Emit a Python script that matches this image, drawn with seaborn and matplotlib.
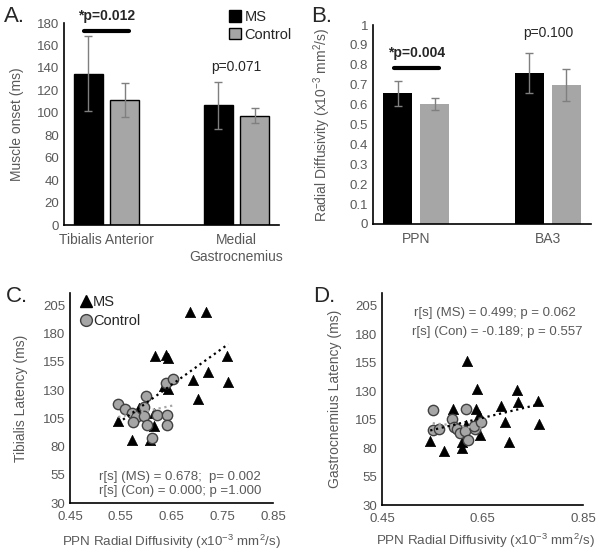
import numpy as np
import pandas as pd
import matplotlib
matplotlib.use("Agg")
import matplotlib.pyplot as plt
import seaborn as sns
from matplotlib.lines import Line2D
from matplotlib.patches import Patch

# groups
groups = ["MS", "Control"]

# A. muscle onset (ms)
onset_muscles = ["Tibialis Anterior", "Medial\nGastrocnemius"]
onset_ms = [135, 106.5]
onset_ms_err = [33.5, 21]
onset_con = [111.5, 97.5]
onset_con_err = [15, 6.5]

# B. radial diffusivity (x10-3 mm2/s)
rd_regions = ["PPN", "BA3"]
rd_ms = [0.657, 0.757]
rd_ms_err = [0.063, 0.10]
rd_con = [0.603, 0.698]
rd_con_err = [0.030, 0.082]

# C. tibialis latency vs PPN RD
tib_ms_x = [0.545, 0.572, 0.586, 0.616, 0.615, 0.607, 0.618, 0.639, 0.644,
            0.636, 0.644, 0.686, 0.718, 0.760, 0.721, 0.693, 0.702, 0.762]
tib_ms_y = [103, 86, 114, 110, 98, 86, 160, 161.5, 158,
            134, 131, 199, 199, 160.5, 146, 139, 122.5, 137]
tib_con_x = [0.545, 0.558, 0.573, 0.581, 0.595, 0.600, 0.595, 0.601,
             0.611, 0.622, 0.642, 0.642, 0.639, 0.653, 0.575]
tib_con_y = [118, 113, 110, 106, 115, 125, 107.5, 99,
             87.5, 108, 108, 99, 136, 140, 101.5]

# D. gastrocnemius latency vs PPN RD
gas_ms_x = [0.546, 0.573, 0.591, 0.609, 0.610, 0.617, 0.619, 0.637, 0.640,
            0.643, 0.645, 0.686, 0.695, 0.703, 0.719, 0.721, 0.761, 0.762]
gas_ms_y = [86, 77, 114, 80, 85, 100, 156.5, 114.5, 132,
            109, 91, 117, 102.5, 85.5, 131, 120, 121.5, 101]
gas_con_x = [0.551, 0.551, 0.564, 0.589, 0.594, 0.600, 0.605,
             0.617, 0.616, 0.622, 0.635, 0.633, 0.648]
gas_con_y = [113.5, 95.5, 96.5, 105.5, 98, 96.5, 93,
             114, 94.5, 87, 96.5, 99, 102.5]

# colors
black = "#000000"
grey = "#a6a6a6"
txt_grey = "#595959"

sns.set_style("white")
plt.rcParams["font.family"] = ["Liberation Sans", "DejaVu Sans"]
plt.rcParams["mathtext.fontset"] = "custom"
plt.rcParams["mathtext.rm"] = "Liberation Sans"

W, H = 602, 555
fig = plt.figure(figsize=(W / 100, H / 100), dpi=100)


def add_ax(left, right, top, bottom):
    return fig.add_axes([left / W, 1 - bottom / H, (right - left) / W, (bottom - top) / H])


def style(ax):
    sns.despine(ax=ax)
    for s in ["left", "bottom"]:
        ax.spines[s].set_color("black")
        ax.spines[s].set_linewidth(1.2)
    ax.tick_params(length=0, colors=txt_grey, labelsize=9.5)


def bars(ax, cats, ms, ms_err, con, con_err, edge):
    df = pd.DataFrame({"cat": cats * 2,
                       "group": ["MS"] * len(cats) + ["Control"] * len(cats),
                       "val": ms + con,
                       "err": ms_err + con_err})
    sns.barplot(data=df, x="cat", y="val", hue="group", hue_order=groups,
                palette=[black, grey], width=0.56, gap=0.2, errorbar=None,
                legend=False, ax=ax, edgecolor="black" if edge else "none",
                linewidth=1 if edge else 0, saturation=1)
    for p, e in zip(ax.patches, df["err"]):
        xc = p.get_x() + p.get_width() / 2
        ax.errorbar(xc, p.get_height(), yerr=e, color="#7f7f7f", capsize=3,
                    elinewidth=1, capthick=1)
    ax.set_xlabel("")
    style(ax)
    ax.tick_params(axis="x", labelsize=10, pad=6)


# ---- A
axA = add_ax(64, 279, 23, 225)
bars(axA, onset_muscles, onset_ms, onset_ms_err, onset_con, onset_con_err, True)
axA.set_ylim(0, 180)
axA.set_yticks(np.arange(0, 181, 20))
axA.set_ylabel("Muscle onset (ms)", fontsize=10, color=txt_grey)
axA.yaxis.set_label_coords(-40 / 215, 0.5)
axA.plot([-0.175, 0.175], [173, 173], color="black", lw=3, clip_on=False)
axA.text(0, 186, "*p=0.012", ha="center", va="center", fontsize=10,
         fontweight="bold", clip_on=False)
axA.text(1, 141, "p=0.071", ha="center", va="center", fontsize=10)
axA.legend(handles=[Patch(facecolor=black, edgecolor="black", label="MS"),
                    Patch(facecolor=grey, edgecolor="black", label="Control")],
           loc="upper left", bbox_to_anchor=(229 / W, 1 - 10 / H),
           bbox_transform=fig.transFigure, frameon=False, fontsize=10.5,
           handlelength=0.85, handleheight=0.85, handletextpad=0.2,
           labelspacing=0.25, borderpad=0, borderaxespad=0)

# ---- B
axB = add_ax(373, 591, 25, 224)
bars(axB, rd_regions, rd_ms, rd_ms_err, rd_con, rd_con_err, False)
axB.set_ylim(0, 1)
axB.set_yticks(np.arange(0, 1.01, 0.1))
axB.set_yticklabels(["0"] + [f"{v:.1f}" for v in np.arange(0.1, 0.95, 0.1)] + ["1"])
axB.set_ylabel("Radial Diffusivity (x10$^{-3}$ mm$^{2}$/s)", fontsize=10, color=txt_grey)
axB.yaxis.set_label_coords(-40 / 218, 0.5)
axB.plot([-0.17, 0.17], [0.786, 0.786], color="black", lw=3, clip_on=False)
axB.text(0, 0.858, "*p=0.004", ha="center", va="center", fontsize=10,
         fontweight="bold", clip_on=False)
axB.text(1, 0.958, "p=0.100", ha="center", va="center", fontsize=10)


def scatter(ax, ms_x, ms_y, con_x, con_y):
    sns.scatterplot(x=ms_x, y=ms_y, marker="^", s=55, color=black,
                    edgecolor=black, linewidth=0.5, ax=ax, zorder=2)
    sns.scatterplot(x=con_x, y=con_y, marker="o", s=55, color=grey,
                    edgecolor="#404040", linewidth=1, ax=ax, zorder=3)
    sns.regplot(x=np.array(ms_x), y=np.array(ms_y), scatter=False, ci=None,
                color="black", line_kws=dict(ls=":", lw=1.6, zorder=4), ax=ax)
    sns.regplot(x=np.array(con_x), y=np.array(con_y), scatter=False, ci=None,
                color=grey, line_kws=dict(ls=":", lw=1.6, zorder=4), ax=ax)
    ax.set_xlim(0.45, 0.85)
    ax.set_ylim(30, 216)
    ax.set_yticks(np.arange(30, 206, 25))
    style(ax)
    ax.tick_params(axis="x", pad=6)
    ax.set_xlabel("PPN Radial Diffusivity (x10$^{-3}$ mm$^{2}$/s)", fontsize=9.6,
                  color=txt_grey, labelpad=7)


# ---- C
axC = add_ax(70, 273, 293, 503)
scatter(axC, tib_ms_x, tib_ms_y, tib_con_x, tib_con_y)
axC.set_xticks([0.45, 0.55, 0.65, 0.75, 0.85])
axC.set_ylabel("Tibialis Latency (ms)", fontsize=10, color=txt_grey)
axC.yaxis.set_label_coords(-42 / 203, 0.5)
axC.text(0.54, 0.125, "r[s] (MS) = 0.678;  p= 0.002", transform=axC.transAxes,
         ha="center", va="center", fontsize=9.5, color=txt_grey)
axC.text(0.545, 0.058, "r[s] (Con) = 0.000; p =1.000", transform=axC.transAxes,
         ha="center", va="center", fontsize=9.5, color=txt_grey)
axC.legend(handles=[Line2D([], [], ls="", marker="^", ms=8.5, color=black, label="MS"),
                    Line2D([], [], ls="", marker="o", ms=8.5, color=grey,
                           markeredgecolor="#404040", label="Control")],
           loc="upper left", bbox_to_anchor=(80 / W, 1 - 295 / H),
           bbox_transform=fig.transFigure, frameon=False, fontsize=10.5,
           handlelength=0.8, handletextpad=0.1, labelspacing=0.35,
           borderpad=0, borderaxespad=0)

# ---- D
axD = add_ax(382, 583, 293, 505)
scatter(axD, gas_ms_x, gas_ms_y, gas_con_x, gas_con_y)
axD.set_xticks([0.45, 0.65, 0.85])
axD.set_ylabel("Gastrocnemius Latency (ms)", fontsize=10, color=txt_grey)
axD.yaxis.set_label_coords(-40 / 201, 0.5)
axD.xaxis.set_label_coords(0.515, -0.125)
axD.text(0.56, 0.905, "r[s] (MS) = 0.499; p = 0.062", transform=axD.transAxes,
         ha="center", va="center", fontsize=9.5, color=txt_grey)
axD.text(0.575, 0.815, "r[s] (Con) = -0.189; p = 0.557", transform=axD.transAxes,
         ha="center", va="center", fontsize=9.5, color=txt_grey)

# panel letters
for lx, ly, lab in [(4, 22, "A."), (311, 22, "B."), (6, 302, "C."), (313, 302, "D.")]:
    fig.text(lx / W, 1 - ly / H, lab, fontsize=16, ha="left", va="baseline")

fig.savefig("out.png", dpi=100)
